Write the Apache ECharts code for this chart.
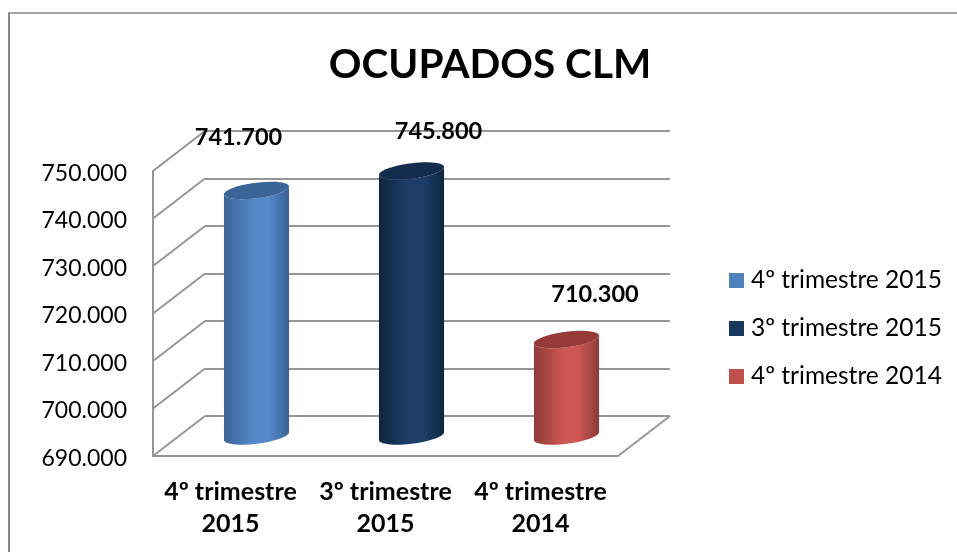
<!DOCTYPE html>
<html><head><meta charset="utf-8">
<style>html,body{margin:0;padding:0;background:#fff}#c{width:957px;height:552px}</style>
<script src="https://cdn.jsdelivr.net/npm/echarts@6/dist/echarts.min.js"></script>
</head><body><div id="c"></div>
<script>
const categories = ['4º trimestre 2015', '3º trimestre 2015', '4º trimestre 2014'];
const axisLabels = ['4º trimestre\n2015', '3º trimestre\n2015', '4º trimestre\n2014'];
const values = [741700, 745800, 710300];
const yTicks = [690000, 700000, 710000, 720000, 730000, 740000, 750000];

const FONT = 'Lato, "Open Sans", sans-serif';
const GRID = '#969696';
const DX = 52, DY = -40;           // depth of the 3D box
const palette = [
  {leg:'#4F81BD', top:'#3A6596', edge:'#3B6293', mid:'#5689CB'},
  {leg:'#17375E', top:'#142D4E', edge:'#10263F', mid:'#1D3D68'},
  {leg:'#C0504D', top:'#953A37', edge:'#8E3B38', mid:'#CE5753'}
];
const labelShift = [[-18, -53], [27, -40], [28.5, -45.5]];
const fmt = v => String(v).replace(/\B(?=(\d{3})+$)/g, '.');

function ellipsePts(cx, cy, a, b, k, from, to) {
  const pts = [], n = 48;
  for (let i = 0; i <= n; i++) {
    const t = from + (to - from) * i / n;
    pts.push([cx + a * Math.cos(t), cy + b * Math.sin(t) - k * a * Math.cos(t)]);
  }
  return pts;
}

function cylinder(idx) {
  return function (params, api) {
    const p = api.coord([categories[idx], values[idx]]);
    const base = api.coord([categories[idx], yTicks[0]]);
    const bandW = api.size([1, 0])[0];
    const a = bandW * 0.21, b = 7.8, k = 0.12;
    const c = palette[idx];
    const X = p[0] + DX / 2, T = p[1] + DY / 2, B = base[1] + DY / 2;
    const lower = ellipsePts(X, T, a, b, k, 0, Math.PI);
    const bottom = ellipsePts(X, B, a, b, k, Math.PI, 0);
    return {
      type: 'group',
      children: [
        {type:'polygon', shape:{points: lower.concat(bottom)},
         style:{fill:new echarts.graphic.LinearGradient(0,0,1,0,[
           {offset:0,color:c.edge},{offset:0.45,color:c.mid},{offset:0.68,color:c.mid},{offset:1,color:c.edge}])}},
        {type:'polygon', shape:{points: ellipsePts(X, T, a, b, k, 0, 2*Math.PI)},
         style:{fill:c.top}},
        {type:'text', style:{
          text: fmt(values[idx]), x: X + labelShift[idx][0], y: T + labelShift[idx][1],
          align:'center', verticalAlign:'middle',
          fontFamily:'Lato', fontWeight:'bold', fontSize:23.5, fill:'#000'}}
      ]
    };
  };
}

function depthLines(params, api) {
  const v = yTicks[params.dataIndex];
  const s = api.coord([categories[0], v]);
  const left = s[0] - api.size([1,0])[0] / 2;
  const children = [
    {type:'line', shape:{x1:left,y1:s[1],x2:left+DX,y2:s[1]+DY}, style:{stroke:GRID,lineWidth:2}}
  ];
  if (v === yTicks[0]) {
    const right = left + api.size([1,0])[0] * categories.length;
    children.push({type:'line', shape:{x1:right,y1:s[1],x2:right+DX,y2:s[1]+DY}, style:{stroke:GRID,lineWidth:2}});
  }
  return {type:'group', children};
}

const series = [
  {type:'custom', name:'_depth', silent:true, xAxisIndex:0, yAxisIndex:0, clip:false, z:1,
   renderItem:depthLines, data:yTicks.map(v=>[categories[0],v]), encode:{x:0,y:1}}
];
categories.forEach((name,i)=>{
  series.push({type:'custom', name, xAxisIndex:0, yAxisIndex:0, clip:false, z:5,
    itemStyle:{color:palette[i].leg},
    renderItem:cylinder(i), data:[[name,values[i]]], encode:{x:0,y:1}});
});

const chart = echarts.init(document.getElementById('c'), null, {renderer:'canvas'});
chart.setOption({
  animation:false,
  backgroundColor:'#fff',
  title:{text:'OCUPADOS CLM', left:485, top:60, textAlign:'center', textVerticalAlign:'middle',
    textStyle:{fontFamily:FONT,fontWeight:'bold',fontSize:40.5,color:'#000'}},
  legend:{data:categories, orient:'vertical', left:729, top:268, padding:0, itemWidth:15, itemHeight:15, itemGap:23,
    icon:'rect', textStyle:{fontFamily:FONT,fontSize:24.5,color:'#000',padding:[0,0,0,2]}, selectedMode:false},
  grid:[
    {left:153, top:171, width:465, height:285},
    {left:205, top:131, width:465, height:285}
  ],
  xAxis:[
    {type:'category', gridIndex:0, data:categories, boundaryGap:true,
     axisLine:{lineStyle:{color:GRID,width:2}}, axisTick:{show:false},
     axisLabel:{margin:20, interval:0, lineHeight:32, fontFamily:FONT, fontWeight:'bold', fontSize:25, color:'#000',
       formatter:(v,i)=>axisLabels[i]}},
    {type:'category', gridIndex:1, data:categories, show:false}
  ],
  yAxis:[
    {type:'value', gridIndex:0, min:yTicks[0], max:yTicks[yTicks.length-1], interval:10000,
     axisLine:{show:true,lineStyle:{color:GRID,width:2}}, axisTick:{show:false}, splitLine:{show:false},
     axisLabel:{margin:26, fontFamily:FONT, fontSize:23, color:'#000', formatter:fmt, verticalAlign:'top', padding:[-9,0,0,0]}},
    {type:'value', gridIndex:1, min:yTicks[0], max:yTicks[yTicks.length-1], interval:10000,
     axisLine:{show:false}, axisTick:{show:false}, axisLabel:{show:false},
     splitLine:{show:true,lineStyle:{color:GRID,width:2}}}
  ],
  series,
  graphic:[
    {type:'line', silent:true, shape:{x1:9,y1:552,x2:9,y2:13}, style:{stroke:'#868686',lineWidth:2}},
    {type:'line', silent:true, shape:{x1:8,y1:13,x2:957,y2:13}, style:{stroke:'#868686',lineWidth:1.5}}
  ]
});
</script></body></html>
